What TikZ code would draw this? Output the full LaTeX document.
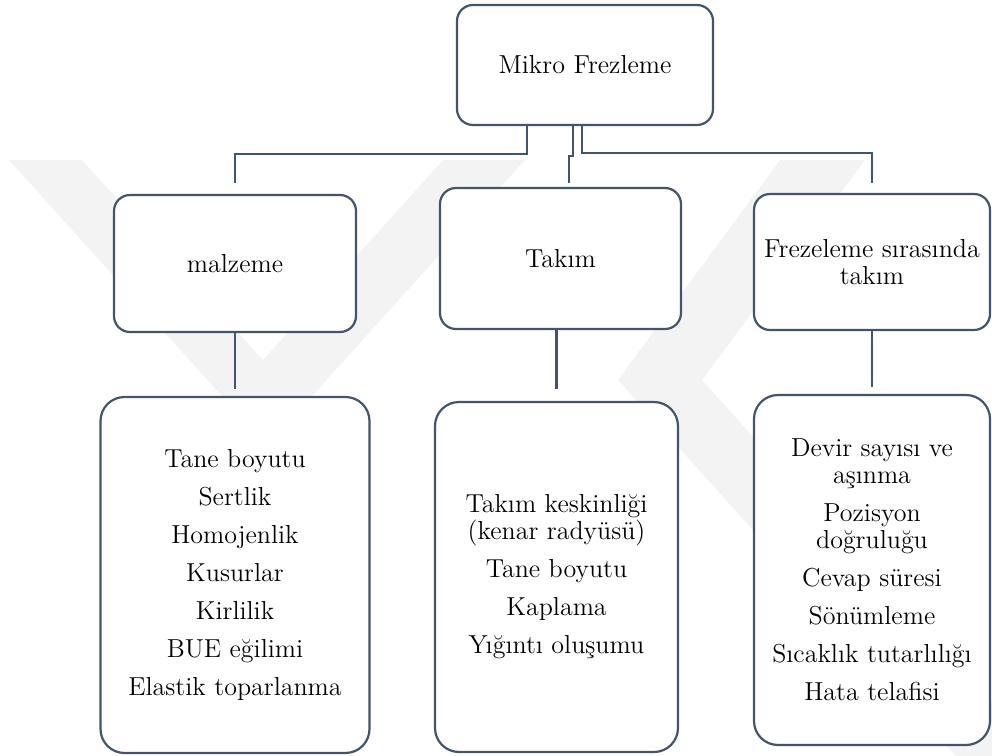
\documentclass[tikz,border=0pt]{standalone}
\usepackage{fontspec}
\usetikzlibrary{positioning}

\definecolor{linegray}{HTML}{44546A}
\definecolor{markgray}{HTML}{F3F3F3}
\tikzset{
  box/.style={draw=linegray, line width=1.1pt, fill=white, rounded corners=8pt,
              align=center, inner sep=0pt, font=\rmfamily\fontsize{13}{13.5}\selectfont},
  listbox/.style={box, rounded corners=12pt},
  link/.style={draw=linegray, line width=1.1pt},
}

\begin{document}
\begin{tikzpicture}[x=0.5pt, y=-0.5pt]
    \useasboundingbox (0,0) rectangle (992,756);
    % faint watermark behind the chart
    \fill[markgray] (9,160) -- (82,160) -- (263,360) -- (443,160) --
                    (525,160) -- (267,446) -- cycle;
    \fill[markgray] (780,160) -- (865,160) -- (702,380) -- (992,702) --
                    (992,756) -- (956,756) -- (618,380) -- cycle;

    \node[box, minimum width=128pt, minimum height=60pt] (root) at (585,65) {Mikro Frezleme};
    \node[box, minimum width=121pt, minimum height=68.5pt] (mat) at (235,263.5) {malzeme};
    \node[box, minimum width=120.5pt, minimum height=70.5pt] (tak) at (560.5,258.5) {Takım};
    \node[box, minimum width=118pt, minimum height=68pt] (frz) at (872,262)
        {Frezeleme sırasında\\takım};

    \node[listbox, minimum width=134.5pt, minimum height=178pt] (matlist) at (235,575)
        {Tane boyutu\\[5.5pt]Sertlik\\[5.5pt]Homojenlik\\[5.5pt]Kusurlar\\[5.5pt]%
         Kirlilik\\[5.5pt]BUE eğilimi\\[5.5pt]Elastik toparlanma};
    \node[listbox, minimum width=121.5pt, minimum height=175pt] (taklist) at (556.5,577)
        {Takım keskinliği\\(kenar radyüsü)\\[5.5pt]Tane boyutu\\[5.5pt]Kaplama\\[5.5pt]%
         Yığıntı oluşumu};
    \node[listbox, minimum width=118pt, minimum height=175pt] (frzlist) at (872,570)
        {Devir sayısı ve\\aşınma\\[5.5pt]Pozisyon\\doğruluğu\\[5.5pt]Cevap süresi\\[5.5pt]%
         Sönümleme\\[5.5pt]Sıcaklık tutarlılığı\\[5.5pt]Hata telafisi};

    \draw[link] ([xshift=-29pt]root.south) |- ([yshift=20pt]mat.north) --
                ([yshift=5.5pt]mat.north);
    \draw[link] ([xshift=-6pt]root.south) -- ++(0,30) -|
                ([xshift=4.25pt,yshift=2pt]tak.north);
    \draw[link] ([xshift=-1.5pt]root.south) |- ([yshift=20pt]frz.north) --
                ([yshift=5pt]frz.north);

    \draw[link] (mat.south) -- ([yshift=3.5pt]matlist.north);
    \draw[link] (tak.south -| taklist.north) -- ([yshift=6pt]taklist.north);
    \draw[link] (frz.south) -- ([yshift=3.5pt]frzlist.north);
\end{tikzpicture}
\end{document}
